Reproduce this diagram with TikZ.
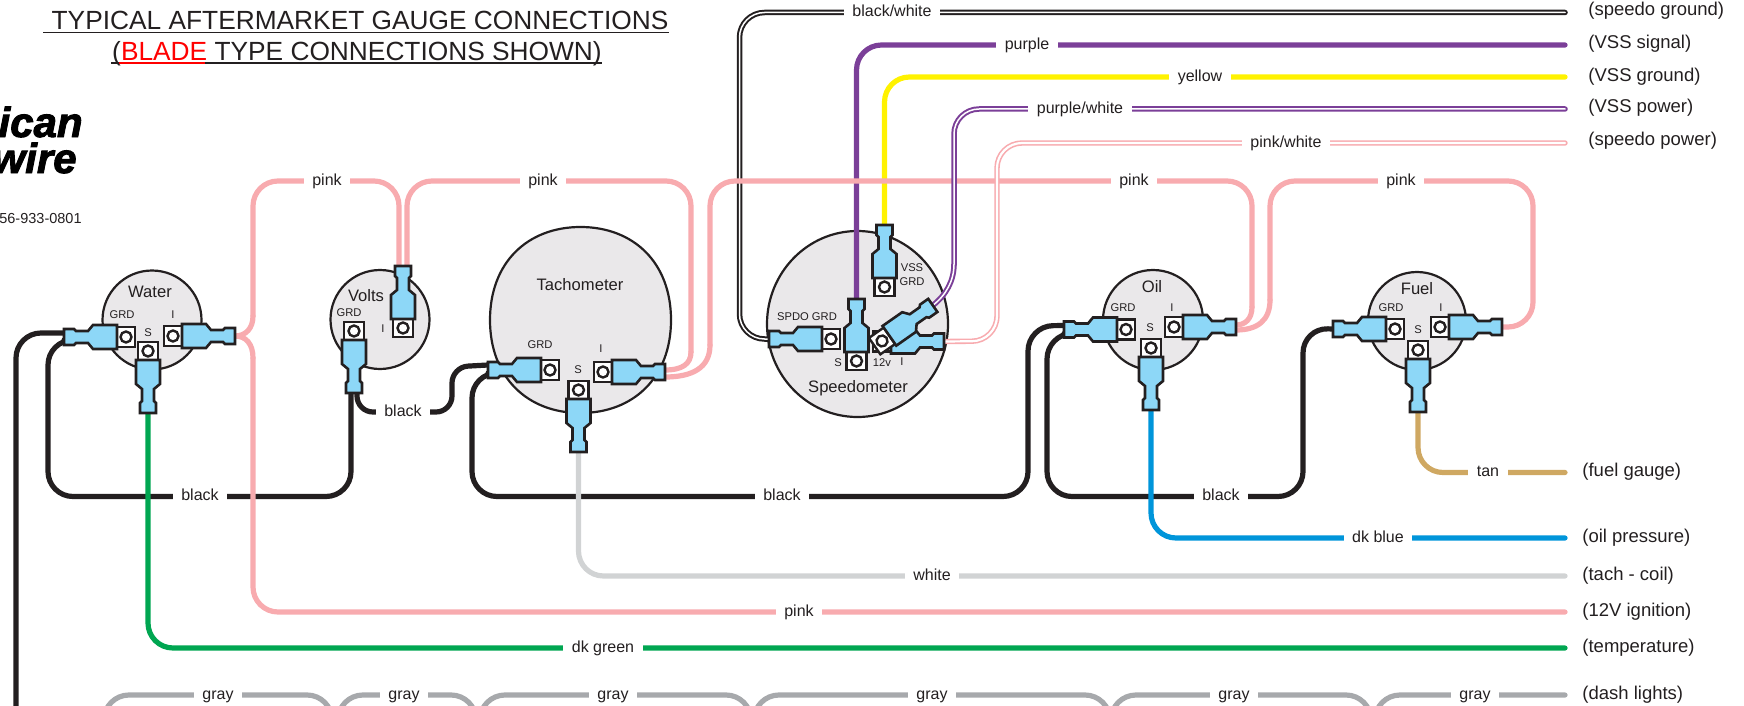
\documentclass[tikz,border=0pt]{standalone}
\usepackage{fontspec}
\setmainfont{Liberation Sans}
\newfontfamily\logofont[BoldItalicFeatures={FakeBold=2.2}]{Liberation Sans}
\definecolor{ink}{HTML}{231F20}
\definecolor{wpinkc}{HTML}{F8ABAF}
\definecolor{wgreenc}{HTML}{00A651}
\definecolor{wbluec}{HTML}{0095DA}
\definecolor{wpurplec}{HTML}{7B3F98}
\definecolor{wyellowc}{HTML}{FFF200}
\definecolor{wtanc}{HTML}{CFA862}
\definecolor{wwhitec}{HTML}{D1D3D4}
\definecolor{wgrayc}{HTML}{A7A9AC}
\definecolor{spadec}{HTML}{8DD7F7}
\definecolor{gaugec}{HTML}{EAE8EA}
\pgfdeclarelayer{gaugelayer}
\pgfdeclarelayer{wirelayer}
\pgfsetlayers{gaugelayer,wirelayer,main}
\tikzset{
  wire/.style={line width=2.6pt,line cap=round,line join=round,rounded corners=12.5pt},
  wirebend/.style={line width=2.6pt,line cap=round},
  dblwire/.style={line width=1pt,double=white,double distance=0.75pt,line cap=round,line join=round,rounded corners=12.5pt},
  dblbend/.style={line width=1pt,double=white,double distance=0.75pt},
  gaugeshape/.style={draw=ink,fill=gaugec,line width=1.1pt,inner sep=0pt},
  termbox/.style={draw=ink,fill=white,line width=1.2pt},
  termhole/.style={draw=ink,fill=white,line width=1.2pt},
  spade/.style={draw=ink,fill=spadec,line width=1.3pt,line join=miter},
  lbl/.style={fill=white,inner xsep=4.25pt,inner ysep=0pt,text height=6pt,text depth=1.6pt,text=ink,font=\fontsize{8}{9}\selectfont},
  side/.style={anchor=west,inner sep=0pt,text height=7pt,text depth=2pt,text=ink,font=\fontsize{9.25}{11}\selectfont},
  gname/.style={inner sep=0pt,text=ink,font=\fontsize{8.3}{10}\selectfont},
  pname/.style={inner sep=0pt,text=ink,font=\fontsize{5.6}{7}\selectfont},
  term/.pic={
    \draw[termbox] (-18,-10) rectangle (0,10);
    \draw[termhole] (-9,0) circle (5.5);
    \draw[spade] (0,-12) -- (24,-12) -- (29,-6) -- (41,-6) -- (43,-8) -- (53,-8) -- (53,8) -- (43,8) -- (41,6) -- (29,6) -- (24,12) -- (0,12) -- cycle;
    \coordinate (-end) at (53,0);
  }
}
\begin{document}
\begin{tikzpicture}[x=0.5pt,y=-0.5pt]
\useasboundingbox (0,0) rectangle (1744,706);

% gauges
\begin{pgfonlayer}{gaugelayer}
\node[gaugeshape,circle,minimum size=49.5pt] (water) at (152,320) {};
\node[gaugeshape,circle,minimum size=49.5pt] (volts) at (380,319.5) {};
\draw[gaugeshape] (490,320) .. controls (490,262) and (528,227) .. (580.5,227) .. controls (633,227) and (671,262) .. (671,320) .. controls (671,378) and (633,413) .. (580.5,413) .. controls (528,413) and (490,378) .. (490,320) -- cycle;
\draw[gaugeshape] (857.5,324) ellipse (90.5 and 93);
\node[gaugeshape,circle,minimum size=50pt] (oil) at (1153,320) {};
\node[gaugeshape,circle,minimum size=49pt] (fuel) at (1417,321) {};
\end{pgfonlayer}

% terminals
\pic[rotate=180] (wg) at (117,337) {term};
\pic[rotate=0] (wi) at (182,336) {term};
\pic[rotate=-90] (ws) at (148,360) {term};
\pic[rotate=-90] (vg) at (354,340) {term};
\pic[rotate=90] (vi) at (403,319) {term};
\pic[rotate=180] (tg) at (541,370) {term};
\pic[rotate=0] (ti) at (612,372) {term};
\pic[rotate=-90] (ts) at (578.5,399) {term};
\pic[rotate=180] (sg) at (822,339) {term};
\pic[rotate=0] (si) at (891,341.5) {term};
\pic[rotate=90] (ss) at (856.5,352) {term};
\pic[rotate=90] (sv) at (884.5,278) {term};
\pic[rotate=35] (sw) at (889.4,335.8) {term};
\pic[rotate=180] (og) at (1117,329.5) {term};
\pic[rotate=0] (oi) at (1183,327) {term};
\pic[rotate=-90] (os) at (1151,357) {term};
\pic[rotate=180] (fg) at (1386,329) {term};
\pic[rotate=0] (fi) at (1449,327) {term};
\pic[rotate=-90] (fs) at (1418,359) {term};

% wires
\begin{pgfonlayer}{wirelayer}
% black
\draw[wire,ink] ([yshift=2pt]wg-end) -- (16,333) -- (16,730);
\draw[wire,ink] ([yshift=-1.5pt]wg-end) -- (48,340) -- (48,496.5) -- (351,496.5) -- ([xshift=-1.5pt]vg-end);
\draw[wire,ink,rounded corners=8pt] ([xshift=1.5pt]vg-end) -- (357,412) -- (452,412) -- (452,367) -- ([yshift=2.5pt]tg-end);
\draw[wire,ink] ([yshift=-1.5pt]tg-end) -- (472,373) -- (472,496.5) -- (1028,496.5) -- (1028,326) -- ([yshift=2pt]og-end);
\draw[wire,ink] ([yshift=-2pt]og-end) -- (1047,334) -- (1047,496.5) -- (1303,496.5) -- (1303,328) -- (fg-end);
% colour wires
\draw[dblwire,ink] (1565,12.5) -- (739.5,12.5) -- (739.5,339) -- (sg-end);
\draw[wire,wpurplec] (1565,45) -- (856.5,45) -- (ss-end);
\draw[wire,wyellowc] (1565,77) -- (884.5,77) -- (sv-end);
\draw[wire,wgreenc] (ws-end) -- (148,648) -- (1565,648);
\draw[wire,wbluec] (os-end) -- (1151,538) -- (1565,538);
\draw[wire,wwhitec] (ts-end) -- (578.5,576) -- (1565,576);
\draw[wire,wtanc] (fs-end) -- (1418,472.5) -- (1565,472.5);
% pink
\draw[wirebend,wpinkc] (wi-end) .. controls (246,336) and (253,328) .. (253,316);
\draw[wire,wpinkc] (253,316) -- (253,181) -- (399,181) -- ([xshift=-2pt]vi-end);
\draw[wirebend,wpinkc] (wi-end) .. controls (246,336) and (253,344) .. (253,358);
\draw[wire,wpinkc] (253,358) -- (253,612) -- (1565,612);
\draw[wire,wpinkc] ([xshift=2pt]vi-end) -- (407,181) -- (691,181) -- (691,352);
\draw[wirebend,wpinkc] (691,352) .. controls (691,364) and (682,370) .. ([yshift=1pt]ti-end);
\draw[wirebend,wpinkc] ([yshift=-2.5pt]ti-end) .. controls (692,377) and (710,368) .. (710,345);
\draw[wire,wpinkc] (710,345) -- (710,181) -- (1252,181) -- (1252,307);
\draw[wirebend,wpinkc] (1252,307) .. controls (1252,319) and (1245,325) .. ([yshift=1pt]oi-end);
\draw[wirebend,wpinkc] ([yshift=-1.5pt]oi-end) .. controls (1258,330) and (1270,320) .. (1270,300);
\draw[wire,wpinkc] (1270,300) -- (1270,181) -- (1533,181) -- (1533,327) -- (fi-end);
% striped wires that pass over the pink
\draw[dblwire,wpurplec] (1565,109) -- (954,109) -- (954,265);
\draw[dblbend,wpurplec] (954,264) .. controls (954,281) and (946,295) .. (sw-end);
\draw[dblwire,wpinkc,line width=0.8pt,double distance=1.1pt] (1565,143) -- (997,143) -- (997,341) -- (si-end);
% gray
\draw[wire,wgrayc] (104,730) -- (104,695) -- (332,695) -- (332,730);
\draw[wire,wgrayc] (338,730) -- (338,695) -- (476,695) -- (476,730);
\draw[wire,wgrayc] (480,730) -- (480,695) -- (751,695) -- (751,730);
\draw[wire,wgrayc] (754,730) -- (754,695) -- (1110,695) -- (1110,730);
\draw[wire,wgrayc] (1111,730) -- (1111,695) -- (1371,695) -- (1371,730);
\draw[wire,wgrayc] (1375,730) -- (1375,695) -- (1565,695);
\end{pgfonlayer}

% wire labels
\node[lbl] (lp1) at (327,181) {pink};
\node[lbl] (lp2) at (543,181) {pink};
\node[lbl] (lp3) at (1134,181) {pink};
\node[lbl] (lp4) at (1401,181) {pink};
\node[lbl] (lp5) at (799,612) {pink};
\node[lbl] (lb1) at (200,496.5) {black};
\node[lbl] (lb2) at (403,412) {black};
\node[lbl] (lb3) at (782,496.5) {black};
\node[lbl] (lb4) at (1221,496.5) {black};
\node[lbl] (lbw) at (892,12.5) {black/white};
\node[lbl] (lpu) at (1027,45) {purple};
\node[lbl] (lye) at (1200,77) {yellow};
\node[lbl] (lpw) at (1080,109) {purple/white};
\node[lbl] (lpk) at (1286,143) {pink/white};
\node[lbl] (ltan) at (1488,472.5) {tan};
\node[lbl] (lblu) at (1378,538) {dk blue};
\node[lbl] (lwh) at (932,576) {white};
\node[lbl] (lgr) at (603,648) {dk green};
\node[lbl] (lg1) at (218,695) {gray};
\node[lbl] (lg2) at (404,695) {gray};
\node[lbl] (lg3) at (613,695) {gray};
\node[lbl] (lg4) at (932,695) {gray};
\node[lbl] (lg5) at (1234,695) {gray};
\node[lbl] (lg6) at (1475,695) {gray};

% side labels
\node[side] (s1) at (1588,10.5) {(speedo ground)};
\node[side] (s2) at (1588,43.5) {(VSS signal)};
\node[side] (s3) at (1588,76.5) {(VSS ground)};
\node[side] (s4) at (1588,107.5) {(VSS power)};
\node[side] (s5) at (1588,140.5) {(speedo power)};
\node[side] (s6) at (1582,471) {(fuel gauge)};
\node[side] (s7) at (1582,537) {(oil pressure)};
\node[side] (s8) at (1582,575) {(tach - coil)};
\node[side] (s9) at (1582,611) {(12V ignition)};
\node[side] (s10) at (1582,647) {(temperature)};
\node[side] (s11) at (1582,694) {(dash lights)};

% gauge names
\node[gname] (nw) at (150,292) {Water};
\node[gname] (nv) at (366,296) {Volts};
\node[gname] (nt) at (580,285) {Tachometer};
\node[gname] (ns) at (858,388) {Speedometer};
\node[gname] (no) at (1152,287) {Oil};
\node[gname] (nf) at (1417,289) {Fuel};

% pin names
\node[pname] (p1) at (122,315) {GRD};
\node[pname] (p2) at (173,315) {I};
\node[pname] (p3) at (148,333) {S};
\node[pname] (p4) at (349,313) {GRD};
\node[pname] (p5) at (383,329) {I};
\node[pname] (p6) at (540,345) {GRD};
\node[pname] (p7) at (601,349) {I};
\node[pname] (p8) at (578,370) {S};
\node[pname] (p9) at (912,268) {VSS};
\node[pname] (p10) at (912,282) {GRD};
\node[pname] (p11) at (807,317) {SPDO GRD};
\node[pname] (p12) at (838,363) {S};
\node[pname] (p13) at (882,363) {12v};
\node[pname] (p14) at (902,362) {I};
\node[pname] (p15) at (1123,308) {GRD};
\node[pname] (p16) at (1172,308) {I};
\node[pname] (p17) at (1150,328) {S};
\node[pname] (p18) at (1391,308) {GRD};
\node[pname] (p19) at (1441,308) {I};
\node[pname] (p20) at (1418,330) {S};

% title
\node[anchor=base,inner sep=0pt,text=ink,font=\fontsize{13.15}{15}\selectfont] (t1) at (360,30) {TYPICAL AFTERMARKET GAUGE CONNECTIONS};
\node[anchor=base,inner sep=0pt,text=ink,font=\fontsize{13.15}{15}\selectfont] (t2) at (357,61) {(\textcolor{red}{BLADE} TYPE CONNECTIONS SHOWN)};
\draw[ink,line width=0.55pt] (43,32.5) -- (669,32.5);
\draw[ink,line width=0.55pt] (111,63) -- (602,63);
\draw[red,line width=0.55pt] (119,63) -- (205,63);

% logo and phone, cut by the picture edge
\node[anchor=base east,inner sep=0pt,font=\logofont\bfseries\itshape\fontsize{21}{21}\selectfont] (lo1) at (83,137) {ican};
\node[anchor=base east,inner sep=0pt,font=\logofont\bfseries\itshape\fontsize{21}{21}\selectfont] (lo2) at (77,173) {wire};
\node[anchor=base east,inner sep=0pt,text=ink,font=\fontsize{7.25}{9}\selectfont] (ph) at (82,223) {56-933-0801};
\end{tikzpicture}
\end{document}
